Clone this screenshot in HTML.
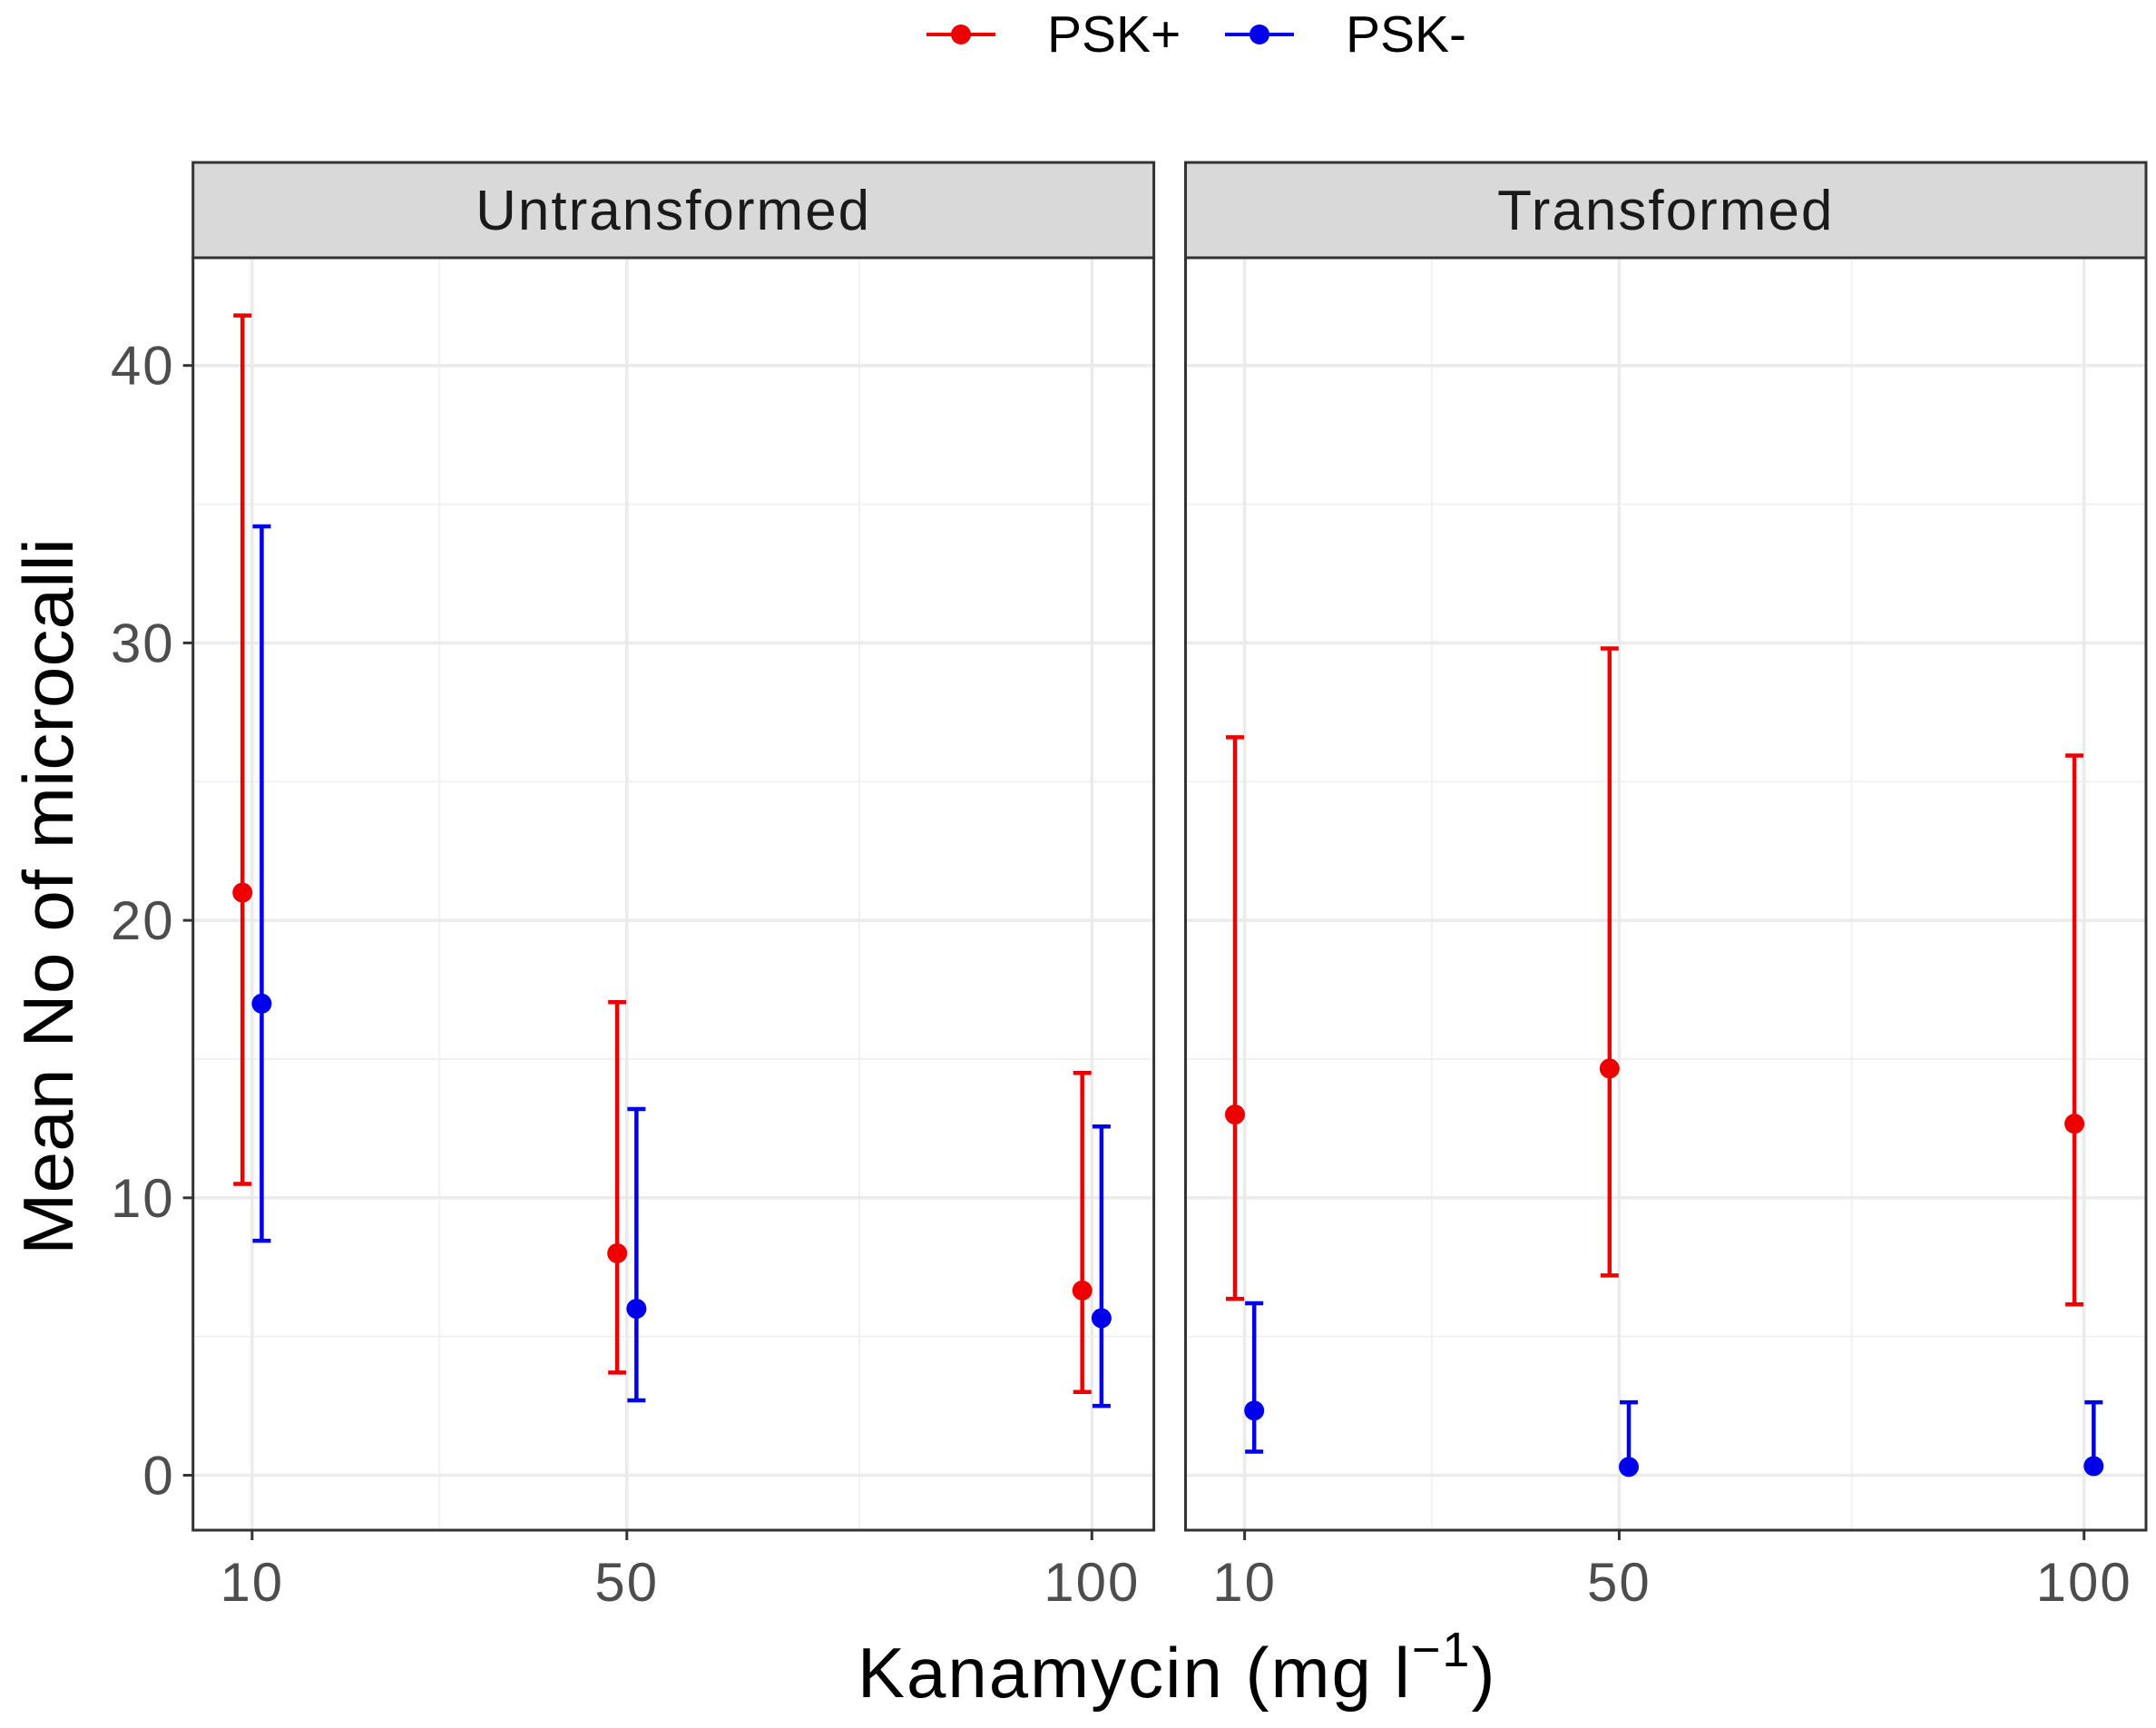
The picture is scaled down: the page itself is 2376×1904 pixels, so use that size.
<!DOCTYPE html>
<html><head><meta charset="utf-8"><style>html,body{margin:0;padding:0;background:#fff}svg{display:block}</style></head>
<body>
<svg id="chart" width="2376" height="1904" viewBox="0 0 2376 1904" xmlns="http://www.w3.org/2000/svg" font-family="Liberation Sans, sans-serif"></svg>
<script>
const doses = [10, 50, 100];
const panels = ["Untransformed", "Transformed"];
const seriesNames = ["PSK+", "PSK-"];
const seriesColors = ["#ee0000", "#0000ee"];
const meanUntrPlus = [21.0, 8.0, 6.66];
const hiUntrPlus = [41.8, 17.05, 14.5];
const loUntrPlus = [10.5, 3.7, 3.0];
const meanUntrMinus = [17.0, 6.0, 5.66];
const hiUntrMinus = [34.2, 13.2, 12.57];
const loUntrMinus = [8.45, 2.7, 2.5];
const meanTrPlus = [13.0, 14.66, 12.67];
const hiTrPlus = [26.6, 29.8, 25.94];
const loTrPlus = [6.36, 7.2, 6.16];
const meanTrMinus = [2.33, 0.3, 0.33];
const hiTrMinus = [6.2, 2.63, 2.63];
const loTrMinus = [0.85, 0.3, 0.3];
const yTicks = [0, 10, 20, 30, 40];
const xTickLabels = ["10", "50", "100"];

const data = [
  [[meanUntrPlus, hiUntrPlus, loUntrPlus], [meanUntrMinus, hiUntrMinus, loUntrMinus]],
  [[meanTrPlus, hiTrPlus, loTrPlus], [meanTrMinus, hiTrMinus, loTrMinus]]
];

const NS = "http://www.w3.org/2000/svg";
const svg = document.getElementById("chart");
function mk(tag, attrs, parent) {
  const e = document.createElementNS(NS, tag);
  for (const k in attrs) e.setAttribute(k, attrs[k]);
  (parent || svg).appendChild(e);
  return e;
}
const plotTop = 284, plotBottom = 1686;
const y = v => 1625.5 - v * 30.57;
const panelX = [[212.7, 1271.6], [1306.5, 2365]];
const doseFrac = [0.0615, 0.4515, 0.9355];
function xScale(p, d) {
  const i = doses.indexOf(d);
  let f;
  if (i >= 0) f = doseFrac[i];
  else {
    let k = d < doses[1] ? 0 : 1;
    f = doseFrac[k] + (d - doses[k]) / (doses[k + 1] - doses[k]) * (doseFrac[k + 1] - doseFrac[k]);
  }
  return panelX[p][0] + f * (panelX[p][1] - panelX[p][0]);
}
const dodge = [-10.6, 10.6];

const leg = mk("g", {});


const legX = [1021, 1350];
seriesNames.forEach((n, s) => {
  const g = mk("g", {}, leg);
  
  
  mk("line", {x1: legX[s], x2: legX[s] + 76, y1: 38, y2: 38, stroke: seriesColors[s], "stroke-width": 4}, g);
  mk("circle", {cx: legX[s] + 38, cy: 38, r: 11, fill: seriesColors[s]}, g);
  const t = mk("text", {x: legX[s] + 133, y: 57, "font-size": 57, fill: "#000"}, g);
  t.textContent = n;
});

panels.forEach((name, p) => {
  const [x0, x1] = panelX[p];
  const g = mk("g", {});
  
  
  mk("rect", {x: x0, y: plotTop, width: x1 - x0, height: plotBottom - plotTop, fill: "#fff"}, g);
  [5, 15, 25, 35].forEach(v => mk("line", {x1: x0, x2: x1, y1: y(v), y2: y(v), stroke: "#f0f0f0", "stroke-width": 1.8}, g));
  [30, 75].forEach(d => { const xx = xScale(p, d); mk("line", {x1: xx, x2: xx, y1: plotTop, y2: plotBottom, stroke: "#f0f0f0", "stroke-width": 1.8}, g); });
  yTicks.forEach(v => mk("line", {x1: x0, x2: x1, y1: y(v), y2: y(v), stroke: "#ebebeb", "stroke-width": 3.5}, g));
  doses.forEach(d => { const xx = xScale(p, d); mk("line", {x1: xx, x2: xx, y1: plotTop, y2: plotBottom, stroke: "#ebebeb", "stroke-width": 3.5}, g); });
  const strip = mk("g", {}, g);
  
  
  mk("rect", {x: x0, y: 179, width: x1 - x0, height: 105, fill: "#d9d9d9", stroke: "#333", "stroke-width": 3}, strip);
  const st = mk("text", {x: (x0 + x1) / 2, y: 253, "font-size": 62, "text-anchor": "middle", fill: "#1a1a1a", "letter-spacing": 2}, strip);
  st.textContent = name;
  data[p].forEach((ser, s) => {
    const [m, hi, lo] = ser;
    doses.forEach((d, i) => {
      const xx = xScale(p, d) + dodge[s];
      const eg = mk("g", {}, g);
      
      
      const c = seriesColors[s];
      mk("line", {x1: xx, x2: xx, y1: y(hi[i]), y2: y(lo[i]), stroke: c, "stroke-width": 4.5}, eg);
      mk("line", {x1: xx - 10, x2: xx + 10, y1: y(hi[i]), y2: y(hi[i]), stroke: c, "stroke-width": 4.5}, eg);
      mk("line", {x1: xx - 10, x2: xx + 10, y1: y(lo[i]), y2: y(lo[i]), stroke: c, "stroke-width": 4.5}, eg);
      const pt = mk("circle", {cx: xx, cy: y(m[i]), r: 11, fill: c}, eg);
      
      
    });
  });
  mk("rect", {x: x0, y: plotTop, width: x1 - x0, height: plotBottom - plotTop, fill: "none", stroke: "#333", "stroke-width": 3}, g);
  const xa = mk("g", {}, g);
  
  
  doses.forEach((d, i) => {
    const xx = xScale(p, d);
    mk("line", {x1: xx, x2: xx, y1: plotBottom, y2: plotBottom + 11, stroke: "#333", "stroke-width": 3}, xa);
    const t = mk("text", {x: xx, y: 1764, "font-size": 60, "text-anchor": "middle", fill: "#4d4d4d", "letter-spacing": 2}, xa);
    t.textContent = xTickLabels[i];
  });
  if (p === 0) {
    const ya = mk("g", {}, g);
    
    
    yTicks.forEach(v => {
      mk("line", {x1: x0 - 11, x2: x0, y1: y(v), y2: y(v), stroke: "#333", "stroke-width": 3}, ya);
      const t = mk("text", {x: x0 - 20, y: y(v) + 21, "font-size": 60, "text-anchor": "end", fill: "#4d4d4d", "letter-spacing": 2}, ya);
      t.textContent = String(v);
    });
  }
});

const yt = mk("text", {x: 0, y: 0, "font-size": 78, "text-anchor": "middle", fill: "#000", transform: "translate(80,988) rotate(-90)", textLength: 790, lengthAdjust: "spacingAndGlyphs"});


yt.textContent = "Mean No of microcalli";

const xt = mk("text", {x: 945, y: 1870, "font-size": 78, fill: "#000", "letter-spacing": 2}, svg);


xt.appendChild(document.createTextNode("Kanamycin (mg l"));
const sup = mk("tspan", {dy: -34, "font-size": 54}, xt);
sup.textContent = "\u22121";
const cl = mk("tspan", {dy: 34}, xt);
cl.textContent = ")";
</script>
</body></html>
